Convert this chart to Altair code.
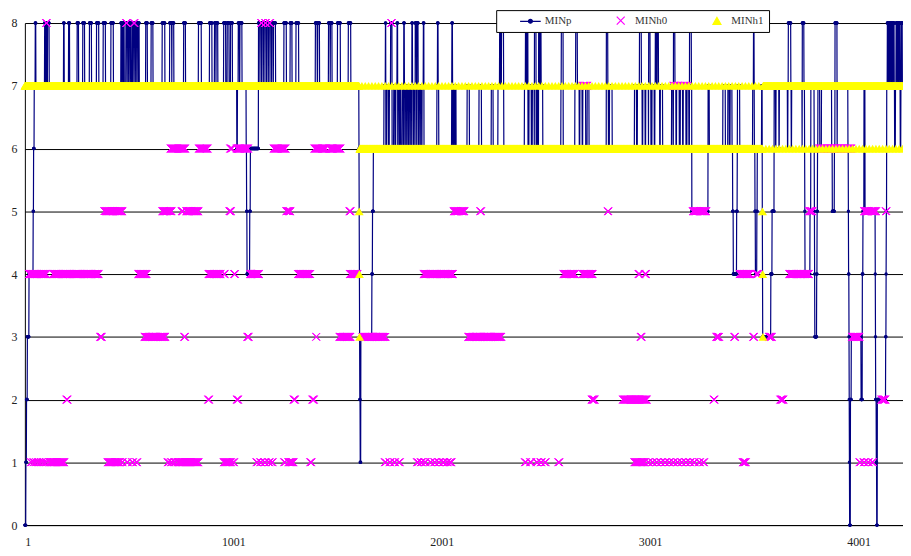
import altair as alt
import numpy as np
import pandas as pd

alt.data_transformers.disable_max_rows()

N_POINTS = 4214
SERIES_NAMES = ["MINp", "MINh0", "MINh1"]
SERIES_STROKE = ["#000080", "#FF00FF", "#FFFF00"]
SERIES_FILL = ["#000080", "transparent", "#FFFF00"]
X_TICKS = [1, 1001, 2001, 3001, 4001]
Y_TICKS = [0, 1, 2, 3, 4, 5, 6, 7, 8]

# MINp: base level change points (start index, value)
MINP_BASE = [
    (1, 0), (6, 1), (9, 2), (13, 3), (21, 4), (41, 5), (43, 6), (46, 7),
    (1018, 6), (1021, 7),
    (1063, 6), (1065, 5), (1067, 4), (1080, 5), (1083, 6), (1122, 7),
    (1604, 6), (1605, 5), (1606, 4), (1607, 3), (1608, 2), (1610, 1), (1613, 3),
    (1666, 4), (1669, 5), (1673, 6),
    (3201, 5), (3279, 6),
    (3397, 5), (3400, 4), (3416, 5), (3419, 6),
    (3504, 5), (3506, 4), (3513, 5), (3515, 6),
    (3536, 7), (3539, 5), (3540, 4), (3541, 3), (3580, 4), (3586, 5), (3596, 7),
    (3742, 6), (3743, 5), (3744, 4), (3768, 5), (3772, 7),
    (3788, 6), (3789, 5), (3790, 4), (3791, 3), (3800, 4), (3802, 5), (3804, 6), (3806, 7),
    (3872, 6), (3875, 5), (3885, 6), (3899, 7),
    (3950, 6), (3952, 5), (3953, 4), (3955, 3), (3956, 2), (3957, 1), (3958, 0),
    (3962, 2), (3966, 3), (4013, 2), (4019, 4), (4022, 5),
    (4081, 4), (4082, 3), (4083, 2), (4086, 1), (4088, 0), (4091, 2),
    (4131, 3), (4133, 4), (4134, 5), (4136, 7),
]

# MINp: short excursions (start, end, value), applied in order over the base
MINP_RUNS = [
    (51, 53, 8), (96, 100, 8), (103, 107, 8), (110, 117, 8), (187, 189, 8),
    (211, 215, 8), (252, 258, 8), (279, 287, 8), (311, 320, 8), (345, 355, 8),
    (377, 387, 8), (414, 425, 8),
    (462, 466, 8), (468, 472, 8), (474, 477, 8),
    (486, 491, 8), (493, 498, 8), (500, 505, 8), (507, 511, 8),
    (518, 523, 8), (525, 530, 8), (532, 537, 8), (539, 544, 8), (546, 549, 8),
    (581, 588, 8), (607, 615, 8), (660, 672, 8), (696, 705, 8), (707, 715, 8),
    (763, 771, 8), (834, 847, 8), (887, 898, 8), (911, 917, 8), (919, 926, 8),
    (955, 964, 8), (972, 980, 8), (988, 996, 8), (1025, 1030, 8), (1033, 1042, 8),
    (1122, 1128, 8), (1130, 1136, 8), (1138, 1144, 8), (1146, 1152, 8),
    (1154, 1160, 8), (1162, 1168, 8), (1170, 1176, 8), (1178, 1184, 8),
    (1186, 1192, 8), (1194, 1203, 8),
    (1244, 1255, 8), (1274, 1282, 8), (1302, 1314, 8), (1395, 1403, 8),
    (1406, 1414, 8), (1458, 1465, 8), (1467, 1474, 8), (1501, 1514, 8),
    (1553, 1564, 8),
    (1724, 1730, 7), (1738, 1745, 7), (1750, 1756, 7),
    (1771, 1776, 7), (1781, 1786, 7), (1791, 1796, 7), (1799, 1803, 7),
    (1811, 1816, 7), (1819, 1824, 7), (1827, 1832, 7), (1835, 1840, 7),
    (1843, 1848, 7), (1851, 1856, 7), (1859, 1864, 7), (1867, 1872, 7),
    (1875, 1880, 7), (1883, 1888, 7), (1891, 1896, 7), (1899, 1904, 7),
    (1907, 1914, 7), (1978, 1986, 7),
    (2049, 2053, 7), (2058, 2062, 7), (2066, 2069, 7),
    (2123, 2133, 7), (2180, 2191, 7), (2239, 2247, 7), (2271, 2280, 7), (2284, 2298, 7),
    (2398, 2404, 7), (2407, 2414, 7), (2420, 2430, 7), (2436, 2444, 7),
    (2446, 2453, 7), (2458, 2462, 7), (2466, 2485, 7),
    (2573, 2583, 7), (2640, 2646, 7), (2650, 2660, 7), (2664, 2674, 7),
    (2678, 2691, 7), (2699, 2707, 7), (2791, 2800, 7), (2806, 2818, 7),
    (2926, 2935, 7), (2940, 2950, 7), (2953, 2962, 7), (2966, 2976, 7),
    (2980, 2992, 7), (2996, 3004, 7), (3010, 3020, 7), (3024, 3034, 7),
    (3037, 3046, 7), (3050, 3060, 7),
    (3104, 3110, 7), (3114, 3124, 7), (3128, 3140, 7), (3146, 3156, 7),
    (3160, 3172, 7), (3178, 3186, 7), (3190, 3200, 7),
    (3279, 3284, 7), (3350, 3361, 7), (3374, 3380, 7), (3385, 3393, 7),
    (3420, 3430, 7), (3493, 3500, 7),
    (1731, 1732, 8), (1756, 1762, 8), (1787, 1789, 8), (1819, 1821, 8),
    (1858, 1860, 8), (1874, 1879, 8), (1882, 1887, 8), (1913, 1915, 8),
    (1981, 1983, 8), (2050, 2052, 8), (2279, 2283, 8), (2288, 2297, 8),
    (2403, 2407, 8), (2410, 2414, 8), (2446, 2453, 8), (2466, 2470, 8),
    (2473, 2477, 8), (2575, 2583, 8), (2644, 2651, 8), (2791, 2797, 8),
    (2950, 2958, 8), (2994, 3000, 8), (3026, 3030, 8), (3035, 3040, 8),
    (3113, 3119, 8), (3190, 3198, 8), (3497, 3499, 8),
    (3603, 3604, 6), (3619, 3620, 6), (3660, 3661, 6), (3678, 3679, 6),
    (3730, 3731, 6), (3815, 3822, 6), (4027, 4031, 7),
    (4174, 4177, 6), (4201, 4203, 6),
    (3664, 3675, 8), (3731, 3738, 8), (3888, 3897, 8),
    (4139, 4143, 8), (4146, 4150, 8), (4153, 4157, 8), (4160, 4164, 8),
    (4167, 4171, 8), (4181, 4185, 8), (4188, 4192, 8), (4195, 4199, 8),
    (4206, 4210, 8),
]

# MINh0: visible runs (start, end, value)
MINH0_RUNS = [
    (102, 106, 8), (486, 490, 8), (523, 527, 8), (1134, 1138, 8), (1153, 1157, 8),
    (1174, 1178, 8), (1758, 1762, 8),
    (2675, 2700, 7), (3112, 3180, 7),
    (700, 770, 6), (836, 878, 6), (986, 995, 6), (1018, 1072, 6), (1195, 1252, 6),
    (1390, 1445, 6), (1462, 1515, 6), (3811, 3965, 6),
    (382, 469, 5), (660, 705, 5), (753, 760, 5), (775, 834, 5), (982, 990, 5),
    (1255, 1275, 5), (1558, 1564, 5), (2058, 2110, 5), (2185, 2190, 5),
    (2797, 2801, 5), (3205, 3270, 5), (3763, 3780, 5), (4027, 4050, 5),
    (4055, 4085, 5), (4131, 4135, 5),
    (21, 60, 4), (68, 104, 4), (136, 355, 4), (545, 585, 4), (882, 940, 4),
    (955, 960, 4), (1005, 1010, 4), (1081, 1125, 4), (1311, 1370, 4),
    (1560, 1597, 4), (1914, 2055, 4), (2585, 2640, 4), (2676, 2725, 4),
    (2945, 2950, 4), (2975, 2982, 4), (3430, 3480, 4), (3510, 3520, 4),
    (3668, 3763, 4),
    (362, 370, 3), (575, 675, 3), (765, 770, 3), (1068, 1075, 3), (1398, 1400, 3),
    (1510, 1563, 3), (1620, 1731, 3), (2128, 2287, 3), (2955, 2960, 3),
    (3318, 3332, 3), (3404, 3409, 3), (3495, 3500, 3), (3570, 3585, 3),
    (3969, 4005, 3),
    (200, 206, 2), (880, 885, 2), (1018, 1024, 2), (1290, 1297, 2), (1380, 1388, 2),
    (2720, 2735, 2), (2870, 2985, 2), (3305, 3310, 2), (3625, 3640, 2),
    (4110, 4130, 2),
    (30, 34, 1), (42, 46, 1), (54, 58, 1), (66, 70, 1), (78, 82, 1), (90, 94, 1),
    (102, 106, 1), (118, 190, 1), (398, 455, 1), (465, 470, 1), (490, 495, 1),
    (515, 520, 1), (535, 540, 1), (686, 692, 1), (702, 708, 1), (718, 724, 1),
    (734, 834, 1), (955, 990, 1), (1000, 1005, 1), (1112, 1117, 1),
    (1130, 1135, 1), (1150, 1155, 1), (1170, 1175, 1), (1185, 1190, 1),
    (1245, 1250, 1), (1265, 1290, 1), (1370, 1376, 1),
    (1728, 1733, 1), (1750, 1755, 1), (1772, 1777, 1), (1795, 1800, 1),
    (1882, 1888, 1), (1900, 1906, 1), (1918, 1924, 1), (1945, 1950, 1),
    (1965, 1970, 1), (1985, 1990, 1), (2005, 2012, 1), (2025, 2030, 1),
    (2040, 2048, 1), (2400, 2405, 1), (2425, 2430, 1), (2455, 2460, 1),
    (2475, 2480, 1), (2495, 2500, 1), (2560, 2565, 1),
    (2925, 2975, 1), (2990, 2995, 1), (3010, 3015, 1), (3030, 3035, 1),
    (3050, 3055, 1), (3070, 3075, 1), (3090, 3095, 1), (3110, 3115, 1),
    (3130, 3135, 1), (3150, 3155, 1), (3170, 3175, 1), (3190, 3195, 1),
    (3210, 3215, 1), (3235, 3240, 1), (3255, 3260, 1),
    (3445, 3460, 1), (4005, 4010, 1), (4025, 4030, 1), (4045, 4050, 1),
    (4065, 4070, 1),
]

# MINh1: base level change points, single points, and the sparse tooth points
MINH1_BASE = [(1, 7), (1605, 6), (3543, 7)]
MINH1_POINTS = [(1605, 5), (1606, 4), (1607, 3), (3540, 5), (3541, 4), (3542, 3)]
MINH1_TEETH_7 = [
    1618, 1634, 1650, 1666, 1682, 1698, 1714, 1730, 1746, 1762,
    1778, 1794, 1810, 1826, 1842, 1858, 1874, 1890, 1906, 1922,
    1938, 1954, 1970, 1986, 2002, 2018, 2034, 2050, 2066, 2082,
    2098, 2114, 2130, 2146, 2162, 2178, 2194, 2210, 2226, 2242,
    2258, 2274, 2290, 2306, 2322, 2338, 2354, 2370, 2386, 2402,
    2418, 2434, 2450, 2466, 2482, 2498, 2514, 2530, 2546, 2562,
    2578, 2594, 2610, 2626, 2642, 2658, 2674, 2690, 2706, 2722,
    2738, 2754, 2770, 2786, 2802, 2818, 2834, 2850, 2866, 2882,
    2898, 2914, 2930, 2946, 2962, 2978, 2994, 3010, 3026, 3042,
    3058, 3074, 3090, 3106, 3122, 3138, 3154, 3170, 3186, 3202,
    3218, 3234, 3250, 3266, 3282, 3298, 3314, 3330, 3346, 3362,
    3378, 3394, 3410, 3426, 3442, 3458, 3474, 3490, 3506, 3522,
]
MINH1_TEETH_6 = [
    3556, 3572, 3588, 3604, 3620, 3636, 3652, 3668, 3684, 3700,
    3716, 3732, 3748, 3764, 3780, 3796, 3812, 3828, 3844, 3860,
    3876, 3892, 3908, 3924, 3940, 3956, 3972, 3988, 4004, 4020,
    4036, 4052, 4068, 4084, 4100, 4116, 4132, 4148, 4164, 4180,
    4196, 4212,
]


def expand_base(changes, n):
    arr = np.zeros(n)
    for k, (s, v) in enumerate(changes):
        e = changes[k + 1][0] - 1 if k + 1 < len(changes) else n
        arr[s - 1:e] = v
    return arr


idx = np.arange(1, N_POINTS + 1)

minp = expand_base(MINP_BASE, N_POINTS)
for s, e, v in MINP_RUNS:
    minp[s - 1:e] = v
df_p = pd.DataFrame({"idx": idx, "val": minp})

h0_idx, h0_val = [], []
for s, e, v in MINH0_RUNS:
    for i in range(s, e + 1):
        h0_idx.append(i)
        h0_val.append(v)
df_h0 = pd.DataFrame({"idx": h0_idx, "val": h0_val})

minh1 = expand_base(MINH1_BASE, N_POINTS)
for i in MINH1_TEETH_7:
    minh1[i - 1] = 7
for i in MINH1_TEETH_6:
    minh1[i - 1] = 6
for i, v in MINH1_POINTS:
    minh1[i - 1] = v
df_h1 = pd.DataFrame({"idx": idx, "val": minh1})

df_leg = pd.DataFrame({"series": SERIES_NAMES, "idx": [np.nan] * 3, "val": [np.nan] * 3})

FONT = "Liberation Serif"

x_enc = alt.X(
    "idx:Q",
    scale=alt.Scale(domain=[1, N_POINTS], nice=False, zero=False),
    axis=alt.Axis(values=X_TICKS, title=None, grid=False, ticks=False, tickSize=0,
                  labelFont=FONT, labelFontSize=12, labelColor="#222",
                  labelPadding=12, domainColor="black", domainWidth=1, format="d"),
)
y_enc = alt.Y(
    "val:Q",
    scale=alt.Scale(domain=[0, 8], nice=False, zero=False),
    axis=alt.Axis(values=Y_TICKS, title=None, grid=True, gridColor="black",
                  gridWidth=1, gridOpacity=1, ticks=False, tickSize=0,
                  labelFont=FONT, labelFontSize=12, labelColor="#222",
                  labelPadding=8, domainColor="black", domainWidth=1, format="d"),
)

line_p = alt.Chart(df_p).mark_line(color="#000080", strokeWidth=1.2).encode(x=x_enc, y=y_enc)
dots_p = alt.Chart(df_p).mark_circle(color="#000080", size=12, opacity=1).encode(x=x_enc, y=y_enc)
pts_h0 = alt.Chart(df_h0).mark_point(
    shape="M-1,-1L1,1M-1,1L1,-1", filled=False, color="#FF00FF",
    size=56, strokeWidth=1, opacity=1,
).encode(x=x_enc, y=y_enc)
pts_h1 = alt.Chart(df_h1).mark_point(
    shape="triangle-up", filled=True, color="#FFFF00", size=80, opacity=1, strokeWidth=0,
).encode(x=x_enc, y=y_enc)

P_SYMBOL = "M-2.6,0L2.6,0M-0.5,0A0.5,0.5,0,1,0,0.5,0A0.5,0.5,0,1,0,-0.5,0"
X_SYMBOL = "M-1,-1L1,1M-1,1L1,-1"


def make_legend():
    return alt.Legend(
        orient="none", legendX=475, legendY=-13, direction="horizontal", title=None,
        fillColor="white", strokeColor="black", padding=5,
        labelFont=FONT, labelFontSize=11, labelColor="#333",
        symbolSize=64, symbolStrokeWidth=1.2, symbolOffset=24,
        columnPadding=20, labelOffset=9, zindex=1,
    )


legend_layer = alt.Chart(df_leg).mark_point(size=64, strokeWidth=1.2, opacity=1).encode(
    x=x_enc, y=y_enc,
    shape=alt.Shape("series:N", scale=alt.Scale(domain=SERIES_NAMES, range=[P_SYMBOL, X_SYMBOL, "triangle-up"]), legend=make_legend()),
    fill=alt.Fill("series:N", scale=alt.Scale(domain=SERIES_NAMES, range=SERIES_FILL), legend=make_legend()),
    stroke=alt.Stroke("series:N", scale=alt.Scale(domain=SERIES_NAMES, range=SERIES_STROKE), legend=make_legend()),
)

chart = alt.layer(line_p, dots_p, pts_h0, pts_h1, legend_layer).properties(
    width=885, height=506,
    padding={"left": 17, "top": 13, "right": 0, "bottom": 28},
    autosize=alt.AutoSizeParams(type="none"),
).configure_view(stroke=None)

chart.save("out.html", embed_options={"renderer": "svg", "actions": False})
